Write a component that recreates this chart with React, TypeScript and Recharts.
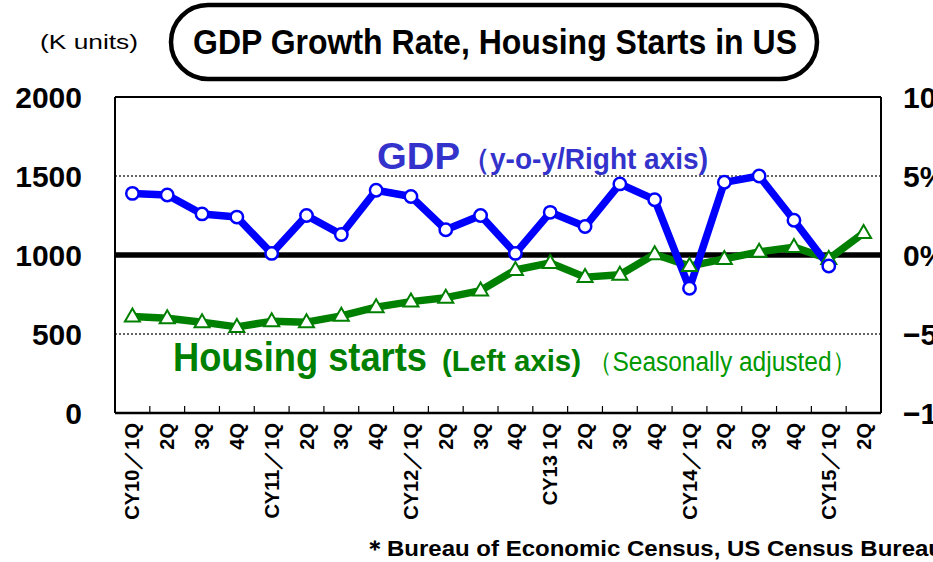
import React from "react";
import { ComposedChart, Line, XAxis, YAxis, CartesianGrid, ReferenceLine } from "recharts";

// quarters on the x axis
const periods = [
  "2010Q1", "2010Q2", "2010Q3", "2010Q4",
  "2011Q1", "2011Q2", "2011Q3", "2011Q4",
  "2012Q1", "2012Q2", "2012Q3", "2012Q4",
  "2013Q1", "2013Q2", "2013Q3", "2013Q4",
  "2014Q1", "2014Q2", "2014Q3", "2014Q4",
  "2015Q1", "2015Q2",
];

const tickLabels = [
  "CY10／1Q", "2Q", "3Q", "4Q",
  "CY11／1Q", "2Q", "3Q", "4Q",
  "CY12／1Q", "2Q", "3Q", "4Q",
  "CY13 1Q", "2Q", "3Q", "4Q",
  "CY14／1Q", "2Q", "3Q", "4Q",
  "CY15／1Q", "2Q",
];

// housing starts, K units (left axis)
const housingStarts = [
  610, 600, 575, 545,
  580, 575, 615, 670,
  705, 730, 775, 905,
  950, 860, 875, 1005,
  930, 975, 1020, 1050,
  975, 1140,
];

// GDP growth, y-o-y % (right axis)
const gdpGrowth = [
  3.9, 3.8, 2.6, 2.4,
  0.1, 2.5, 1.3, 4.1,
  3.7, 1.6, 2.5, 0.1,
  2.7, 1.8, 4.5, 3.5,
  -2.1, 4.6, 5.0, 2.2,
  -0.7, null,
];

const leftTicks = [0, 500, 1000, 1500, 2000];
const rightTicks = [-10, -5, 0, 5, 10];
const rightTickLabels: Record<number, string> = { "-10": "−10%", "-5": "−5%", 0: "0%", 5: "5%", 10: "10%" };

const data = periods.map((p, i) => ({ period: p, housing: housingStarts[i], gdp: gdpGrowth[i] }));

const W = 933;
const H = 562;
const PLOT_LEFT = 115;
const PLOT_RIGHT = 881;
const PLOT_TOP = 97;
const PLOT_BOTTOM = 413;
const X_AXIS_H = 120;
const band = (PLOT_RIGHT - PLOT_LEFT) / periods.length;
const FONT = '"Liberation Sans", Arial, sans-serif';

const XTick = (props: any) => {
  const { x, payload } = props;
  const i = periods.indexOf(payload.value);
  const ty = PLOT_BOTTOM + 10;
  return (
    <g>
      {i < periods.length - 1 && (
        <line x1={x + band / 2} x2={x + band / 2} y1={PLOT_BOTTOM - 7} y2={PLOT_BOTTOM} stroke="#000" strokeWidth={1.2} />
      )}
      <text
        x={x}
        y={ty}
        transform={`rotate(-90 ${x} ${ty})`}
        textAnchor="end"
        dominantBaseline="central"
        fontFamily={FONT}
        fontWeight="bold"
        fontSize={20}
        fill="#000"
      >
        {tickLabels[i]}
      </text>
    </g>
  );
};

const LeftTick = ({ y, payload }: any) => (
  <text x={82} y={y} textAnchor="end" dominantBaseline="central" fontFamily={FONT} fontWeight="bold" fontSize={30} fill="#000">
    {payload.value}
  </text>
);

const RightTick = ({ y, payload }: any) => (
  <text x={903} y={y} textAnchor="start" dominantBaseline="central" fontFamily={FONT} fontWeight="bold" fontSize={30} fill="#000">
    {rightTickLabels[payload.value]}
  </text>
);

const renderCircle = (props: any) => {
  const { cx, cy, index } = props;
  if (cx == null || cy == null) return <g key={`c${index}`} />;
  return <circle key={`c${index}`} cx={cx} cy={cy} r={6.2} fill="#fff" stroke="#0000FF" strokeWidth={2.5} />;
};

const renderTriangle = (props: any) => {
  const { cx, cy, index } = props;
  if (cx == null || cy == null) return <g key={`t${index}`} />;
  const pts = `${cx},${cy - 8} ${cx - 7.5},${cy + 5} ${cx + 7.5},${cy + 5}`;
  return <polygon key={`t${index}`} points={pts} fill="#fff" stroke="#008000" strokeWidth={2} strokeLinejoin="miter" />;
};

const App = () => {
  return (
    <div style={{ position: "fixed", left: 0, top: 0, width: W, height: H, overflow: "hidden", background: "#fff" }}>
      <ComposedChart
        width={W}
        height={H}
        data={data}
        margin={{ top: PLOT_TOP, right: 0, bottom: H - PLOT_BOTTOM - X_AXIS_H, left: 0 }}
      >
        <CartesianGrid yAxisId="left" vertical={false} stroke="#333" strokeDasharray="2 2" strokeWidth={1.5} />
        <XAxis
          dataKey="period"
          interval={0}
          height={X_AXIS_H}
          padding={{ left: band / 2, right: band / 2 }}
          tick={<XTick />}
          tickLine={false}
          axisLine={{ stroke: "#000", strokeWidth: 2.5 }}
        />
        <YAxis
          yAxisId="left"
          domain={[0, 2000]}
          ticks={leftTicks}
          width={PLOT_LEFT}
          tick={<LeftTick />}
          tickLine={false}
          axisLine={{ stroke: "#000", strokeWidth: 2 }}
        />
        <YAxis
          yAxisId="right"
          orientation="right"
          domain={[-10, 10]}
          ticks={rightTicks}
          width={W - PLOT_RIGHT}
          tick={<RightTick />}
          tickLine={false}
          axisLine={{ stroke: "#000", strokeWidth: 2 }}
        />
        <ReferenceLine yAxisId="left" y={2000} stroke="#000" strokeWidth={2} />
        <ReferenceLine yAxisId="left" y={1000} stroke="#000" strokeWidth={5.5} />
        <Line
          yAxisId="left"
          dataKey="housing"
          stroke="#008000"
          strokeWidth={7.5}
          strokeLinejoin="round"
          dot={renderTriangle}
          activeDot={false}
          isAnimationActive={false}
        />
        <Line
          yAxisId="right"
          dataKey="gdp"
          stroke="#0000FF"
          strokeWidth={7.5}
          strokeLinejoin="round"
          dot={renderCircle}
          activeDot={false}
          connectNulls={false}
          isAnimationActive={false}
        />
      </ComposedChart>

      <svg width={W} height={H} style={{ position: "absolute", left: 0, top: 0, pointerEvents: "none" }} fontFamily={FONT}>
        <text x={40} y={49} fontSize={21} textLength={98} lengthAdjust="spacingAndGlyphs" fill="#000">
          (K units)
        </text>
        <rect x={171} y={5} width={646} height={74} rx={37} ry={37} fill="#fff" stroke="#000" strokeWidth={4.5} />
        <text x={193} y={54} fontSize={35} fontWeight="bold" textLength={604} lengthAdjust="spacingAndGlyphs" fill="#000">
          GDP Growth Rate, Housing Starts in US
        </text>

        <text x={377} y={169} fontSize={36} fontWeight="bold" textLength={83} lengthAdjust="spacingAndGlyphs" fill="#3333CC">
          GDP
        </text>
        <text x={462} y={169} fontSize={29} fontWeight="bold" textLength={246} lengthAdjust="spacingAndGlyphs" fill="#3333CC">
          （y-o-y/Right axis)
        </text>

        <text x={173} y={371} fontSize={40} fontWeight="bold" textLength={254} lengthAdjust="spacingAndGlyphs" fill="#008000">
          Housing starts
        </text>
        <text x={442} y={371} fontSize={29} fontWeight="bold" textLength={139} lengthAdjust="spacingAndGlyphs" fill="#008000">
          (Left axis)
        </text>
        <text x={588} y={371} fontSize={27} textLength={268} lengthAdjust="spacingAndGlyphs" fill="#009900">
          （Seasonally adjusted）
        </text>

        <text x={363} y={556} fontSize={22} fontWeight="bold" textLength={580} lengthAdjust="spacingAndGlyphs" fill="#000">
          ＊Bureau of Economic Census, US Census Bureau
        </text>
      </svg>
    </div>
  );
};

export default App;
